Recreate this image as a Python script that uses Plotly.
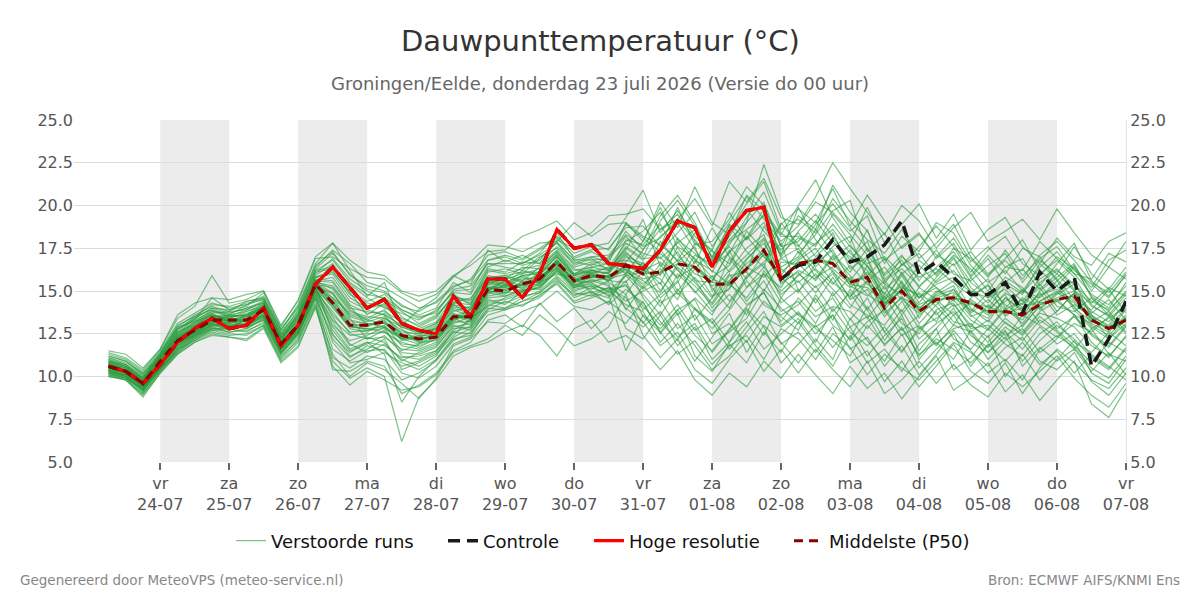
import pandas as pd
import plotly.graph_objects as go

# ---------------- data ----------------
start_time = "2026-07-23 06:00"
n_steps = 60
times = pd.date_range(start_time, periods=n_steps, freq="6h")

hres = [10.6, 10.3, 9.6, 10.7, 12.0, 12.8, 13.4, 12.8, 13.0, 14.0,
        11.8, 13.0, 15.4, 16.4, 15.2, 14.0, 14.5, 13.1, 12.7, 12.5,
        14.7, 13.5, 15.7, 15.7, 14.6, 16.0, 18.6, 17.5, 17.7, 16.6,
        16.5, 16.3, 17.4, 19.1, 18.7, 16.4, 18.5, 19.7, 19.9, 15.7]

control = [10.6, 10.3, 9.6, 10.7, 12.0, 12.8, 13.4, 12.8, 13.0, 14.0,
           11.8, 13.0, 15.4, 16.4, 15.2, 14.0, 14.5, 13.1, 12.7, 12.5,
           14.7, 13.5, 15.7, 15.7, 14.6, 16.0, 18.6, 17.5, 17.7, 16.6,
           16.5, 16.3, 17.4, 19.1, 18.7, 16.4, 18.5, 19.7, 19.9, 15.7,
           16.5, 16.7, 18.0, 16.7, 17.0, 17.7, 19.1, 16.0, 16.7, 15.8,
           14.8, 14.8, 15.5, 13.7, 16.1, 15.0, 15.8, 10.6, 12.2, 14.4]

p50 = [10.6, 10.3, 9.6, 10.9, 12.1, 12.7, 13.3, 13.3, 13.3, 13.9,
       11.9, 13.0, 15.4, 14.3, 13.0, 13.0, 13.2, 12.4, 12.2, 12.3,
       13.5, 13.5, 15.1, 15.0, 15.4, 15.7, 16.7, 15.6, 15.9, 15.8,
       16.5, 16.0, 16.1, 16.6, 16.4, 15.4, 15.4, 16.3, 17.4, 15.7,
       16.6, 16.8, 16.6, 15.5, 15.8, 14.0, 15.0, 13.8, 14.5, 14.6,
       14.3, 13.8, 13.8, 13.6, 14.2, 14.5, 14.7, 13.3, 12.8, 13.3]

m01 = [10.8,10.5,9.9,11.2,12.6,13.1,13.8,13.5,13.9,14.3, 12.3,13.4,15.9,16.6,15.2,14.1,14.6,13.5,12.9,13.4, 14.8,14.2,16.1,16.3,16.0,16.9,17.8,16.5,16.9,16.2, 17.5,16.8,18.2,19.0,17.4,16.1,17.9,18.6,19.4,17.2, 18.1,17.6,19.5,18.3,17.1,15.9,16.8,15.2,16.4,17.3, 15.8,14.6,15.1,14.0,15.5,16.2,15.4,14.1,13.6,14.8]
m02 = [10.3,10.0,9.3,10.6,11.8,12.4,13.0,12.9,13.1,13.6, 11.6,12.7,15.0,13.2,11.8,12.3,12.0,10.9,11.4,11.8, 12.9,13.1,14.5,14.2,15.0,15.2,16.3,15.1,15.3,14.7, 15.9,14.8,13.6,15.1,14.0,12.8,13.9,15.2,16.0,14.3, 15.1,13.8,14.6,12.9,13.5,11.8,12.9,11.2,12.4,13.6, 12.0,11.4,12.3,10.9,12.1,13.0,12.2,11.1,10.4,11.6]
m03 = [11.2,10.9,10.1,11.4,12.9,13.6,14.1,13.8,14.4,14.6, 12.5,13.9,16.3,17.2,16.0,15.1,14.9,14.2,13.6,14.0, 15.5,14.9,16.8,17.0,16.6,17.2,18.4,16.9,17.3,16.8, 18.2,17.0,19.1,20.3,18.8,17.0,18.5,20.1,21.4,18.6, 19.2,18.4,20.4,19.1,18.0,17.2,18.6,16.9,17.8,18.9, 17.0,15.9,16.8,15.7,17.1,17.9,16.8,15.5,14.9,16.1]
m04 = [10.1,9.8,9.0,10.3,11.4,12.1,12.7,12.8,12.6,13.2, 11.2,12.1,14.5,11.1,10.5,11.2,11.0,9.8,10.2,10.9, 12.1,12.6,13.8,14.0,14.4,14.9,15.7,14.6,15.0,14.2, 15.1,14.3,12.6,13.9,12.4,11.5,12.8,14.1,14.9,13.0, 13.8,12.5,13.6,11.6,12.3,10.6,11.8,10.1,11.3,12.7, 11.5,10.2,11.0,9.8,11.6,12.4,11.7,10.5,9.9,11.2]
m05 = [10.9,10.6,9.8,11.0,12.3,12.9,13.5,13.4,13.2,14.0, 12.0,13.1,15.6,15.8,14.4,13.9,13.6,12.5,12.3,12.8, 14.1,13.8,15.5,15.4,16.2,15.9,17.1,16.0,16.4,16.6, 16.8,16.5,17.4,16.2,15.3,14.2,15.6,16.9,17.8,16.1, 16.9,17.8,18.6,17.2,16.5,15.1,16.0,14.6,15.8,16.9, 15.2,14.3,15.6,14.9,16.0,16.8,15.8,14.2,13.5,14.6]
m06 = [10.5,10.2,9.5,10.8,12.0,12.6,13.2,13.6,13.5,13.8, 11.8,12.9,15.2,14.9,13.4,12.2,12.7,11.5,11.9,12.5, 13.6,13.2,15.0,15.6,15.1,16.2,16.5,15.3,15.8,16.1, 17.2,16.4,15.4,17.6,16.9,15.8,16.5,18.2,17.0,15.9, 17.3,16.2,15.1,14.0,15.6,13.9,15.2,14.8,13.6,14.5, 13.3,12.7,13.9,14.5,13.1,13.8,14.9,13.0,12.4,13.5]
m07 = [10.2,10.1,9.4,10.5,11.7,12.5,13.1,12.7,13.0,13.5, 11.5,12.6,15.3,12.5,11.2,11.6,12.2,10.4,10.8,11.3, 12.4,13.4,14.1,14.6,14.9,15.5,16.0,15.8,14.9,15.2, 14.6,13.1,14.5,12.8,13.6,11.9,12.6,13.4,15.1,14.0, 13.1,14.6,13.0,12.2,14.1,12.6,11.4,12.9,11.8,13.0, 12.6,11.0,12.1,12.8,11.4,12.2,13.6,12.0,11.1,12.4]
m08 = [11.0,10.7,10.0,11.3,12.8,13.3,14.6,13.9,14.1,14.9, 12.7,14.2,16.6,17.8,16.2,14.7,15.5,13.0,13.9,14.6, 15.9,15.4,17.4,16.7,17.1,16.6,18.0,17.5,17.8,17.4, 18.9,18.1,17.3,18.4,19.6,17.6,19.0,20.5,19.2,17.9, 18.8,20.2,19.6,18.5,19.4,16.8,17.6,18.4,16.9,17.8, 16.1,17.4,18.2,16.6,15.9,17.0,16.3,15.2,16.8,17.4]
m09 = [10.4,10.3,9.7,10.7,12.2,12.8,13.4,13.1,13.6,14.1, 12.2,13.3,15.5,14.6,13.7,13.4,13.9,12.8,12.0,12.1, 13.2,14.0,15.3,15.2,15.8,15.4,16.9,15.5,16.1,15.6, 16.3,15.2,16.6,15.0,16.3,14.7,15.1,16.8,18.0,15.4, 16.2,15.7,17.1,15.9,14.8,14.1,15.5,13.4,14.9,15.6, 14.0,13.2,14.6,13.9,14.8,15.1,14.4,13.6,12.9,14.0]
m10 = [10.7,10.4,9.6,11.1,12.4,13.0,13.7,13.2,13.4,14.2, 12.4,13.6,15.8,16.1,14.9,13.6,14.3,13.3,12.6,12.7, 14.4,13.9,15.7,15.9,15.6,16.4,17.3,16.3,16.0,16.4, 17.8,17.2,16.9,17.8,18.6,16.5,17.2,19.0,20.2,17.6, 17.9,19.1,17.8,17.0,16.2,14.8,16.6,15.8,16.3,15.5, 14.7,15.3,14.2,13.5,15.0,15.8,16.6,14.6,13.8,15.0]
m11 = [10.0,9.9,9.2,10.4,11.6,12.3,12.9,13.0,12.8,13.4, 11.4,12.4,14.8,12.9,11.6,12.0,11.3,8.5,10.0,11.0, 12.3,12.8,13.9,14.4,14.1,14.8,15.4,14.3,14.6,15.0, 14.2,13.8,12.0,13.1,11.8,10.4,11.2,12.6,13.8,11.9, 12.6,11.4,12.9,10.8,11.5,9.7,10.9,9.4,10.6,11.9, 10.3,9.6,10.8,9.0,10.5,11.6,10.8,9.8,9.3,10.5]
m12 = [10.8,10.4,9.7,11.0,12.5,13.4,14.0,13.7,14.0,14.4, 12.1,13.7,16.0,16.9,15.7,15.0,14.5,13.8,13.1,13.6, 14.6,14.5,16.3,16.1,16.7,16.6,17.6,16.7,16.5,17.0, 17.9,18.5,19.6,18.0,17.2,16.4,17.7,19.3,20.8,18.4, 17.6,18.9,20.1,18.7,17.5,16.0,17.1,15.6,17.0,18.1, 16.5,15.5,16.2,15.0,16.4,17.3,16.0,14.8,14.2,15.3]
m13 = [10.3,10.1,9.1,10.6,11.9,12.6,13.1,13.3,12.9,13.7, 11.7,12.8,15.1,13.6,12.6,12.7,13.0,11.8,11.6,12.0, 13.4,13.0,14.9,15.1,15.3,15.8,16.6,15.6,15.5,15.9, 13.9,15.3,14.1,16.0,15.0,13.8,14.8,13.6,16.2,14.8, 15.6,14.3,15.8,14.2,13.6,13.0,14.4,12.8,13.4,14.2, 13.0,12.3,13.4,12.6,13.8,14.4,13.6,12.4,11.7,12.9]
m14 = [11.3,11.0,10.3,11.5,13.1,13.7,14.3,14.0,14.2,14.7, 12.8,14.0,16.4,17.4,16.6,15.5,15.2,14.6,14.0,14.3, 15.2,15.7,17.1,17.3,16.9,17.5,18.2,17.2,17.6,17.8, 19.3,20.9,18.4,19.7,18.2,17.4,19.6,18.0,19.0,17.0, 18.5,19.5,18.2,16.8,17.9,15.4,17.0,16.2,17.4,16.0, 15.6,16.5,17.2,15.5,16.8,16.0,17.6,16.0,15.1,16.4]
m15 = [10.6,10.2,9.4,10.9,12.0,12.5,13.2,12.9,13.3,13.8, 11.9,12.9,15.3,14.0,12.9,12.8,12.6,12.0,11.7,12.2, 13.3,13.6,15.0,14.8,15.6,15.3,16.4,15.2,15.7,15.4, 12.8,12.2,13.6,11.8,12.9,11.0,12.0,13.2,11.6,12.5, 13.4,12.0,14.0,12.6,11.8,12.9,11.5,12.7,13.8,12.2, 11.6,12.8,11.9,11.2,12.5,13.2,12.0,11.4,12.6,11.8]
m16 = [10.9,10.7,9.9,11.2,12.4,13.2,13.6,13.4,13.7,14.0, 12.2,13.2,15.6,15.5,14.1,13.0,13.4,12.7,12.4,12.9, 13.8,14.1,15.6,15.5,15.9,16.0,17.0,15.9,16.2,16.0, 18.0,17.7,18.9,17.1,16.0,15.6,17.3,18.1,19.8,16.9, 16.4,17.2,18.4,16.3,17.0,14.6,15.9,14.3,15.6,16.6, 14.9,14.0,15.3,14.4,15.7,16.3,15.1,13.8,13.2,14.3]
m17 = [10.2,9.9,9.3,10.5,11.5,12.2,12.8,12.6,12.7,13.1, 11.3,12.3,14.6,11.6,10.9,11.5,11.6,10.2,9.9,10.6, 11.9,12.3,13.6,13.9,14.2,14.6,15.5,14.4,14.8,14.3, 16.1,15.6,14.9,16.6,15.7,14.0,15.2,16.4,17.3,15.5, 16.1,14.9,16.2,14.5,15.1,13.5,14.7,13.1,14.2,15.1, 13.6,12.8,14.0,13.1,14.4,15.0,14.1,12.9,12.2,13.4]
m18 = [10.7,10.5,9.8,10.8,12.2,12.9,13.5,13.6,13.8,14.1, 12.0,13.1,15.4,15.2,13.9,13.3,13.1,12.6,12.5,13.0, 14.2,13.7,15.4,15.8,15.5,16.0,16.8,15.9,16.3,15.5, 14.8,16.2,15.7,14.5,16.8,15.2,14.0,15.9,16.7,17.8, 15.0,16.0,14.7,15.8,13.9,15.3,13.6,14.9,14.1,13.0, 14.6,15.4,13.5,14.3,15.2,13.8,14.9,13.7,14.5,13.3]
m19 = [10.4,10.0,9.2,10.6,11.8,12.4,13.0,13.1,13.0,13.6, 11.6,12.6,15.0,13.0,12.1,12.4,12.9,11.2,11.0,11.5, 12.8,12.9,14.6,14.7,15.1,15.1,16.2,15.4,15.1,15.6, 16.6,14.6,13.2,12.1,14.0,13.2,11.6,12.9,14.4,13.5, 12.7,14.8,13.3,15.1,13.9,12.1,13.6,11.5,12.8,14.0, 12.4,11.7,12.9,12.1,13.3,12.6,11.6,12.8,11.3,10.9]
m20 = [11.1,10.8,10.2,11.1,12.7,13.5,13.9,13.6,14.2,14.5, 12.6,13.8,16.2,16.4,15.0,14.4,14.8,13.9,13.4,13.8, 15.0,15.1,16.6,16.4,16.2,17.0,17.5,16.6,17.0,16.7, 16.0,17.4,18.6,19.5,18.0,16.8,18.2,19.8,18.5,17.4, 18.4,17.0,18.0,16.6,18.6,15.7,16.5,17.2,15.9,17.1, 16.3,15.0,16.4,16.9,15.3,16.6,17.8,15.6,14.7,15.9]
m21 = [10.1,10.0,9.1,10.4,11.6,12.1,12.6,12.4,12.5,13.0, 11.1,12.2,14.3,10.4,10.3,10.9,10.6,9.0,9.5,10.2, 11.5,12.0,13.3,13.6,12.9,14.3,13.2,14.0,12.8,13.8, 13.1,14.4,12.5,13.7,11.2,10.3,11.9,10.8,12.6,11.4, 13.2,11.8,10.6,12.4,10.8,11.6,10.3,11.9,12.8,10.4, 11.1,12.4,10.0,11.3,9.8,11.0,12.1,10.2,9.6,11.0]
m22 = [10.6,10.3,9.6,11.0,12.3,12.8,13.4,13.3,13.5,14.0, 12.1,13.0,15.4,14.4,13.2,13.1,12.9,12.3,12.2,12.4, 13.6,13.4,15.2,15.0,15.4,15.7,16.7,15.7,15.9,15.9, 16.5,16.0,17.9,16.7,17.6,15.0,16.2,17.5,18.3,15.8, 14.9,16.6,17.4,15.6,16.9,14.2,15.6,13.9,15.0,14.6, 13.9,13.4,14.6,13.8,14.9,13.6,14.2,13.5,13.0,14.4]
m23 = [10.9,10.6,9.8,11.3,12.9,13.2,13.9,13.5,13.6,14.3, 12.3,13.5,15.8,16.0,14.6,14.0,14.2,13.1,12.8,13.2, 14.6,14.3,15.9,15.7,16.4,16.3,17.3,16.0,16.6,16.3, 17.4,19.2,16.4,17.9,16.6,18.7,17.0,16.1,18.8,17.1, 19.9,18.0,16.8,17.7,16.4,15.4,14.8,16.1,15.2,14.4, 15.8,16.9,15.4,14.8,16.6,15.7,14.5,13.9,15.1,13.7]
m24 = [10.2,9.9,9.0,10.3,11.5,12.3,12.8,12.8,12.9,13.3, 11.3,12.5,14.7,12.2,11.1,11.8,11.5,10.6,10.9,11.4, 12.6,12.5,14.2,14.0,14.6,15.0,15.9,14.9,14.7,15.2, 14.0,13.2,11.8,12.6,10.9,12.3,13.7,11.4,13.0,12.0, 10.8,12.2,11.0,13.4,12.1,10.9,12.5,10.5,11.6,12.5, 10.6,11.9,10.9,12.0,10.7,11.5,10.2,11.3,10.6,9.8]
m25 = [10.6,10.4,9.7,10.9,12.1,12.7,13.3,13.0,13.1,13.8, 11.8,12.9,15.1,14.1,12.8,12.6,13.2,12.1,12.3,12.6, 13.7,13.3,15.1,15.3,15.2,15.6,16.6,15.5,15.8,15.7, 17.0,16.6,15.9,18.1,16.8,16.2,15.4,14.6,16.0,15.2, 16.8,17.5,16.1,15.2,16.1,14.5,15.3,14.0,14.8,15.3, 13.7,14.5,13.6,14.6,14.0,14.9,15.6,13.4,12.7,13.9]
m26 = [11.4,11.1,10.4,11.6,13.4,14.1,15.9,14.3,14.5,15.0, 13.0,14.4,16.9,17.0,16.3,15.8,15.7,14.9,14.4,14.8, 15.8,16.7,17.7,17.6,17.3,17.8,17.9,19.0,18.2,18.9, 19.0,17.9,20.2,18.7,21.1,19.0,18.3,20.6,19.7,18.3, 20.0,21.5,19.3,17.8,19.9,17.8,18.9,20.1,18.1,19.5, 17.4,18.6,19.3,17.6,16.6,18.1,17.0,16.5,17.9,18.4]
m27 = [10.3,10.1,9.4,10.7,12.0,12.4,13.0,13.2,13.2,13.6, 11.7,12.8,15.2,13.5,11.9,11.4,11.9,11.0,10.6,11.2, 12.7,13.3,14.8,15.4,15.0,15.9,16.3,15.2,15.5,14.9, 15.4,13.9,14.8,15.6,13.3,14.6,16.0,14.4,15.6,13.8, 14.4,13.1,14.9,13.3,14.6,12.6,13.9,12.2,13.1,13.8, 12.6,13.3,12.4,13.0,14.1,12.8,13.5,12.5,11.8,13.0]
m28 = [10.8,10.6,10.0,11.1,12.6,13.0,13.6,13.4,13.8,14.2, 12.2,13.4,15.7,15.6,14.2,13.7,13.8,13.2,12.7,13.1, 14.3,14.6,15.8,15.9,16.1,16.1,17.2,16.2,16.4,16.2, 17.6,16.9,17.0,15.7,17.8,17.0,18.8,17.3,16.4,19.0, 17.7,16.4,17.6,18.2,15.6,16.4,15.1,16.5,15.5,16.2, 15.0,14.6,15.8,15.2,13.9,14.8,15.4,14.4,13.9,14.9]
m29 = [10.0,9.8,8.8,10.2,11.3,12.0,12.5,12.3,12.2,12.9, 10.9,11.8,14.0,10.9,9.9,10.5,10.0,6.2,8.8,9.8, 11.2,11.7,12.0,12.6,13.0,12.4,11.2,12.8,13.3,12.0, 12.4,11.6,10.4,11.5,9.8,8.9,10.2,9.4,10.9,9.9, 11.3,10.1,9.0,10.6,9.3,10.2,8.7,10.0,11.2,9.2, 9.9,10.8,9.1,10.1,8.6,9.8,10.9,8.4,7.6,9.3]
m30 = [10.5,10.2,9.5,10.9,12.2,12.9,13.5,13.2,13.4,14.0, 12.0,13.0,15.4,14.8,13.5,13.2,13.5,12.4,12.0,12.6, 13.9,13.5,15.4,15.3,15.7,15.8,16.8,15.8,16.0,15.8, 16.2,15.4,16.3,14.8,15.8,14.6,16.9,15.7,17.2,16.3, 15.5,16.3,15.4,16.5,15.4,14.9,13.8,15.2,14.5,13.6, 14.3,13.6,14.4,15.0,14.6,15.6,14.0,13.2,13.8,12.6]
m31 = [11.0,10.6,9.9,11.1,12.5,13.2,13.7,13.8,13.9,14.4, 12.4,13.6,16.1,16.3,15.4,14.6,14.0,13.7,13.3,13.9, 14.9,14.8,16.4,16.8,16.5,16.8,17.9,16.8,16.8,16.9, 18.5,17.4,19.4,20.6,19.0,16.9,18.0,19.0,22.4,19.6, 17.2,18.3,19.7,20.3,17.3,18.4,16.5,17.6,18.8,17.6, 15.9,17.1,16.0,17.5,17.0,15.6,16.5,15.0,16.4,15.7]
m32 = [10.4,10.2,9.3,10.6,11.9,12.5,13.1,12.8,13.0,13.5, 11.5,12.6,14.9,12.7,11.5,11.9,12.4,11.4,11.3,11.7, 13.0,12.7,14.4,14.5,14.8,15.3,16.1,15.0,15.3,15.1, 15.3,14.1,13.0,14.2,12.7,13.4,12.0,13.9,12.4,14.6, 13.6,12.8,12.1,11.2,13.0,11.9,12.8,11.3,12.0,11.0, 12.7,11.4,12.6,11.6,12.9,11.9,12.5,11.2,10.5,11.7]
m33 = [10.7,10.3,9.7,11.0,12.3,13.0,13.5,13.3,13.6,13.9, 11.9,13.1,15.5,14.9,13.6,13.3,13.7,12.9,12.5,12.8, 14.0,13.7,15.5,15.3,15.9,15.5,16.6,15.6,16.2,16.0, 17.1,15.9,17.2,16.3,14.9,15.9,14.4,15.8,16.6,14.6, 16.0,15.2,16.0,14.6,16.5,14.4,16.1,14.6,15.2,14.1, 14.5,13.8,14.9,14.2,15.4,14.1,13.8,14.6,13.6,12.9]
m34 = [10.1,9.9,9.2,10.4,11.4,12.2,12.7,12.5,12.4,13.0, 11.0,12.0,14.2,11.3,10.0,10.8,10.4,9.6,8.7,9.9, 11.8,12.2,13.2,13.1,13.8,14.2,15.0,14.1,13.9,14.4, 13.6,12.9,13.8,12.3,13.1,11.4,12.7,14.0,12.9,10.8, 11.9,13.0,11.7,12.9,11.2,12.4,13.4,11.0,12.2,11.6, 10.8,11.8,12.7,10.6,11.7,10.9,11.6,10.3,11.4,10.1]
m35 = [11.5,11.3,10.5,11.6,13.6,14.3,14.6,14.5,14.8,15.0, 12.9,14.5,17.0,17.8,16.8,16.1,15.9,15.0,14.7,15.0, 15.9,16.5,17.3,17.4,18.2,18.6,19.1,18.0,18.4,19.4, 19.5,19.8,18.6,19.2,20.4,18.8,21.4,20.2,21.6,19.3, 18.9,20.5,22.5,21.0,19.6,18.3,20.0,19.1,17.5,18.7, 19.6,17.9,18.5,19.2,18.0,19.8,18.4,17.1,16.4,17.9]
m36 = [10.6,10.3,9.6,10.8,12.0,12.7,13.3,13.4,13.2,13.9, 11.9,12.9,15.3,14.5,13.1,12.9,13.3,12.2,12.4,12.4, 13.5,13.9,15.1,15.6,15.3,15.6,16.7,15.5,16.0,15.6, 15.5,16.7,15.0,16.4,15.5,14.3,15.9,16.1,15.0,16.7, 16.6,15.6,17.0,15.3,14.7,15.6,14.5,13.7,14.7,15.1, 13.8,14.9,13.9,13.3,14.7,15.3,13.9,12.8,13.4,14.1]
m37 = [10.3,10.0,9.2,10.5,11.7,12.3,12.9,12.6,12.8,13.3, 11.4,12.5,14.8,12.0,10.8,11.0,11.4,10.8,10.4,11.0, 12.2,12.4,14.0,13.9,14.4,14.7,15.6,14.8,14.9,14.6, 15.6,13.5,12.6,11.3,12.1,10.7,11.8,12.4,11.0,12.8, 12.2,11.0,12.5,11.7,10.1,11.3,10.5,9.8,10.9,12.0, 11.4,10.6,11.7,12.3,10.9,10.4,11.4,9.7,8.9,10.2]
m38 = [10.8,10.5,9.9,11.2,12.7,13.3,13.8,13.7,14.0,14.3, 12.3,13.5,15.8,16.2,14.8,14.3,14.1,13.4,13.0,13.5, 14.7,14.4,16.2,16.0,16.3,16.5,17.4,16.4,16.7,16.6, 19.0,18.2,17.7,16.8,18.4,17.3,16.6,18.5,17.4,18.9, 19.8,19.0,21.0,18.8,20.6,19.1,17.5,18.3,17.1,16.5, 17.3,16.0,16.9,18.0,16.2,15.3,16.4,14.7,14.0,15.5]
m39 = [10.2,10.0,9.3,10.4,11.6,12.4,12.8,12.9,12.9,13.4, 11.4,12.5,14.6,12.4,11.4,12.0,11.8,11.1,11.2,11.5, 12.6,12.9,14.3,14.3,14.7,14.9,15.8,14.7,15.2,14.8, 11.5,13.6,12.8,13.9,14.5,12.5,13.1,12.0,13.5,12.9, 13.7,12.9,13.6,12.1,13.2,13.9,12.4,13.0,11.9,12.8, 13.1,12.0,13.2,12.4,13.5,12.7,11.8,10.8,12.0,11.4]
m40 = [10.9,10.5,9.7,11.2,12.4,13.1,13.6,13.2,13.5,14.1, 12.1,13.3,15.6,15.1,13.8,13.5,13.4,12.9,12.6,12.8, 14.2,14.0,15.6,15.4,15.9,16.1,17.0,15.9,16.1,16.1, 17.3,16.3,14.6,15.5,17.1,16.6,17.6,16.4,15.8,16.9, 17.5,15.8,16.4,17.4,15.9,16.9,15.4,14.6,15.4,15.8, 14.9,15.7,14.0,15.1,14.3,14.5,13.6,13.1,12.6,13.6]
m41 = [10.4,10.1,9.4,10.7,11.9,12.6,13.2,13.0,13.1,13.7, 11.7,12.7,15.0,13.3,12.4,12.5,12.6,11.9,11.8,12.2, 13.2,13.2,14.7,14.9,14.9,15.4,16.4,15.3,15.6,15.3, 14.4,15.0,15.5,13.6,14.6,13.6,15.5,14.2,14.9,13.2, 14.6,13.5,14.1,13.8,12.8,14.0,12.7,13.6,14.4,13.2, 12.9,14.2,13.1,12.5,13.7,13.4,12.9,11.8,11.2,12.3]
m42 = [11.2,10.9,10.2,11.4,13.0,13.5,14.2,14.1,14.4,14.6, 12.7,14.1,16.5,17.3,15.9,15.3,15.0,14.1,13.8,14.4, 15.3,15.6,16.8,17.1,16.8,17.4,18.1,17.0,17.4,17.5, 18.7,18.8,17.6,19.9,17.7,17.9,19.2,21.1,20.0,17.6, 19.4,18.6,21.2,19.6,18.5,16.6,18.2,17.3,19.0,18.4, 16.7,17.6,16.4,16.2,17.9,16.9,16.0,15.7,17.2,16.7]
m43 = [10.5,10.3,9.5,10.8,12.1,12.6,13.2,13.1,13.3,13.8, 11.8,12.9,15.2,14.2,13.0,12.7,12.8,12.2,11.9,12.3, 13.4,13.6,15.2,15.1,15.5,15.5,16.5,15.4,15.6,15.7, 16.0,15.1,16.1,17.3,15.6,15.5,17.4,15.2,16.4,15.0, 15.9,16.8,15.5,14.7,15.6,13.7,14.6,14.1,13.2,14.8, 13.5,13.9,14.8,12.9,14.2,14.6,15.0,13.6,12.2,13.1]
m44 = [10.0,9.8,8.9,10.2,11.3,12.0,12.4,12.3,12.1,12.8, 10.8,11.7,14.1,10.6,9.5,10.3,9.8,9.2,9.4,10.1, 11.4,11.8,12.2,13.0,12.4,13.6,12.8,11.8,12.2,12.9, 14.8,12.4,11.1,12.2,10.4,9.6,11.0,12.1,10.3,11.6, 10.2,11.6,10.4,9.4,10.9,9.0,9.8,10.9,9.6,10.7, 9.5,8.8,10.2,9.4,10.3,11.2,9.9,8.9,8.2,9.6]
m45 = [10.7,10.4,9.8,11.0,12.3,12.9,13.4,13.5,13.6,14.0, 12.0,13.2,15.5,15.3,14.0,13.8,13.6,13.0,12.6,13.1, 14.3,14.2,15.8,15.7,16.0,16.3,17.1,16.0,16.2,16.3, 16.7,17.9,19.9,17.5,16.3,17.4,16.1,17.1,18.1,16.4, 17.0,18.6,17.2,16.1,17.5,15.6,16.3,15.3,16.1,17.0, 15.5,14.7,15.5,16.3,15.1,16.0,15.0,14.3,15.2,14.7]
m46 = [10.3,10.1,9.4,10.6,11.8,12.5,13.0,13.2,13.0,13.5, 11.6,12.7,15.0,13.8,12.5,12.2,12.3,11.6,11.5,11.9, 13.1,13.5,14.9,14.7,15.0,15.2,16.2,15.2,15.4,15.0, 15.9,16.1,14.3,14.9,13.9,13.1,14.3,15.6,14.2,13.6, 14.2,15.3,13.8,14.9,13.4,14.7,13.1,12.5,13.9,14.3, 12.8,13.0,12.2,13.6,13.0,12.3,13.1,12.6,13.5,12.5]
m47 = [11.1,10.7,10.1,11.3,12.8,13.4,14.0,13.9,14.3,14.5, 12.5,13.7,16.2,16.8,15.5,14.8,14.6,13.9,13.5,13.7, 15.1,15.3,16.6,16.6,16.6,17.1,17.8,16.8,17.0,17.1, 18.3,17.6,18.1,19.2,17.9,16.7,18.9,18.0,19.5,18.2, 18.2,17.7,18.9,17.6,16.6,17.0,16.0,16.8,16.0,17.5, 16.9,15.8,17.4,15.9,16.9,17.6,16.2,15.4,14.6,16.0]
m48 = [10.5,10.2,9.4,10.7,12.0,12.7,13.2,13.3,13.2,13.9, 11.9,12.9,15.3,14.6,13.3,13.1,13.1,12.3,12.1,12.5, 13.6,13.5,15.2,15.2,15.4,15.7,16.7,15.6,15.9,15.8, 16.4,16.2,16.7,15.8,16.4,15.7,15.3,16.3,17.1,15.7, 16.5,16.9,16.3,15.4,15.2,14.3,15.0,14.2,14.6,14.9, 14.2,14.1,13.7,14.0,14.4,14.9,14.3,13.4,12.8,13.2]
m49 = [10.6,10.3,9.5,10.9,12.2,12.8,13.3,12.9,13.3,13.9, 11.9,13.0,15.4,14.2,12.9,12.8,12.9,12.2,12.3,12.3, 13.4,13.6,15.0,14.9,15.4,15.6,16.7,15.6,15.8,15.9, 16.3,15.7,16.0,16.8,16.4,15.3,15.6,16.6,17.4,15.6, 16.7,16.8,16.7,15.6,15.9,14.1,15.1,13.9,14.5,14.6, 14.4,13.7,13.8,13.5,14.3,14.4,14.8,13.2,12.9,13.4]
m50 = [10.4,10.2,9.6,10.8,12.1,12.7,13.3,13.3,13.3,13.9, 11.9,13.0,15.4,14.3,13.0,13.0,13.2,12.4,12.2,12.3, 13.5,13.4,15.1,15.0,15.4,15.7,16.7,15.6,15.9,15.8, 16.5,16.0,16.1,16.6,16.4,15.5,15.4,16.3,17.3,15.7, 16.6,16.8,16.6,15.5,15.8,14.3,15.0,13.8,14.5,14.6, 14.3,13.8,13.8,13.6,14.2,14.5,14.7,13.3,12.8,13.3]

members = [m01, m02, m03, m04, m05, m06, m07, m08, m09, m10,
           m11, m12, m13, m14, m15, m16, m17, m18, m19, m20,
           m21, m22, m23, m24, m25, m26, m27, m28, m29, m30,
           m31, m32, m33, m34, m35, m36, m37, m38, m39, m40,
           m41, m42, m43, m44, m45, m46, m47, m48, m49, m50]

for k, m in enumerate(members):
    assert len(m) == n_steps, f"member {k+1} has {len(m)} values"
assert len(control) == n_steps and len(p50) == n_steps

shaded_days = ["2026-07-24", "2026-07-26", "2026-07-28", "2026-07-30",
               "2026-08-01", "2026-08-03", "2026-08-05"]
tick_dates = pd.date_range("2026-07-24", "2026-08-07", freq="D")
day_abbr = ["ma", "di", "wo", "do", "vr", "za", "zo"]
tick_text = [f"{day_abbr[d.weekday()]}<br>{d.strftime('%d-%m')}" for d in tick_dates]

x_start = "2026-07-22 18:00"
x_end = "2026-08-07 00:00"

title_text = "Dauwpunttemperatuur (°C)"
subtitle_text = "Groningen/Eelde, donderdag 23 juli 2026 (Versie do 00 uur)"
footer_left = "Gegenereerd door MeteoVPS (meteo-service.nl)"
footer_right = "Bron: ECMWF AIFS/KNMI Ens"

legend_names = ["Verstoorde runs", "Controle", "Hoge resolutie", "Middelste (P50)"]

FONT = "DejaVu Sans"

# plot area in pixels (for converting layout positions to paper coords)
PL, PR, PT, PB = 74, 1126, 120, 462
PW, PH = PR - PL, PB - PT


def px_x(px):
    return (px - PL) / PW


def px_y(py):
    return (PB - py) / PH


# ---------------- figure ----------------
fig = go.Figure()

for k, m in enumerate(members):
    fig.add_trace(go.Scatter(
        x=times, y=m, mode="lines",
        line=dict(color="rgba(40,155,60,0.6)", width=1.2),
        name=legend_names[0], legendgroup="ens", legend="legend",
        showlegend=(k == 0), hoverinfo="skip"))

fig.add_trace(go.Scatter(
    x=times, y=control, mode="lines",
    line=dict(color="#1a1a1a", width=3.5, dash="12px,7px"),
    name=legend_names[1], legend="legend2"))

fig.add_trace(go.Scatter(
    x=times[:len(hres)], y=hres, mode="lines",
    line=dict(color="#ff0000", width=3.2),
    name=legend_names[2], legend="legend3"))

fig.add_trace(go.Scatter(
    x=times, y=p50, mode="lines",
    line=dict(color="#8b0000", width=3, dash="9px,6px"),
    name=legend_names[3], yaxis="y2", legend="legend4"))

shapes = []
for d in shaded_days:
    d0 = pd.Timestamp(d)
    shapes.append(dict(type="rect", xref="x", yref="paper",
                       x0=d0, x1=d0 + pd.Timedelta(days=1), y0=0, y1=1,
                       fillcolor="#ececec", line=dict(width=0), layer="below"))

yax_common = dict(range=[5, 25], dtick=2.5, tick0=5, tickformat=".1f",
                  tickfont=dict(family=FONT, size=16, color="#555"),
                  zeroline=False, fixedrange=True)


def legend_at(text_px):
    return dict(orientation="h", x=px_x(text_px - 40), xanchor="left",
                y=px_y(541), yanchor="middle",
                font=dict(family=FONT, size=18, color="#111"),
                bgcolor="rgba(0,0,0,0)", borderwidth=0)


fig.update_layout(
    width=1200, height=600,
    margin=dict(l=PL, r=1200 - PR, t=PT, b=600 - PB),
    paper_bgcolor="white", plot_bgcolor="white",
    font=dict(family=FONT, color="#333"),
    shapes=shapes,
    showlegend=True,
    legend=legend_at(271),
    legend2=legend_at(483),
    legend3=legend_at(629),
    legend4=legend_at(829),
    xaxis=dict(range=[x_start, x_end], tickvals=tick_dates, ticktext=tick_text,
               ticks="outside", ticklen=7, tickwidth=2, tickcolor="#666",
               tickfont=dict(family=FONT, size=16, color="#555"),
               showgrid=False, zeroline=False, showline=False),
    yaxis=dict(**yax_common, showgrid=True, gridcolor="#dcdcdc", gridwidth=1,
               showline=False),
    yaxis2=dict(**yax_common, overlaying="y", side="right", showgrid=False,
                showline=True, linecolor="#e3e3e3", linewidth=1),
    annotations=[
        dict(text=title_text, xref="paper", yref="paper", x=0.5, y=px_y(41),
             xanchor="center", yanchor="middle", showarrow=False,
             font=dict(family=FONT, size=29, color="#333")),
        dict(text=subtitle_text, xref="paper", yref="paper", x=0.5, y=px_y(83),
             xanchor="center", yanchor="middle", showarrow=False,
             font=dict(family=FONT, size=18, color="#666")),
        dict(text=footer_left, xref="paper", yref="paper", x=px_x(18),
             y=px_y(580), xanchor="left", yanchor="middle", showarrow=False,
             font=dict(family=FONT, size=13.5, color="#888")),
        dict(text=footer_right, xref="paper", yref="paper", x=px_x(1182),
             y=px_y(580), xanchor="right", yanchor="middle", showarrow=False,
             font=dict(family=FONT, size=13.5, color="#888")),
    ],
)

fig.write_html("out.html")
